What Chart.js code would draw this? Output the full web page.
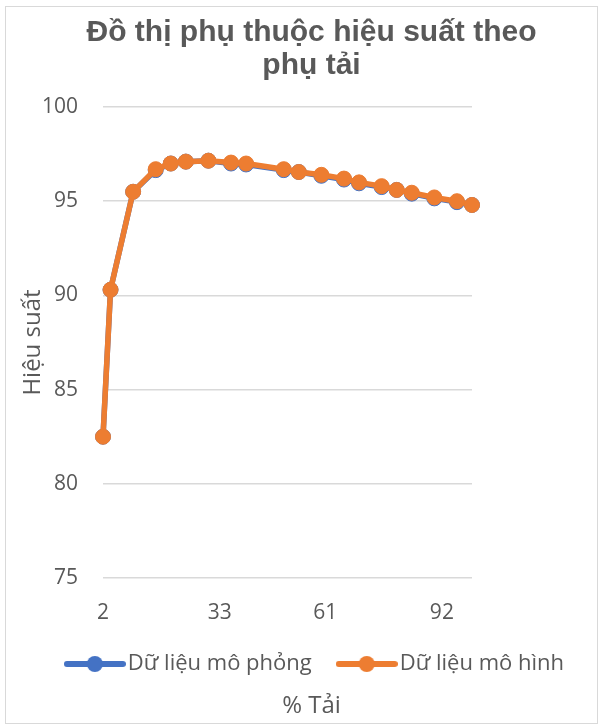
<!DOCTYPE html>
<html>
<head>
<meta charset="utf-8">
<script src="https://cdn.jsdelivr.net/npm/chart.js@4"></script>
<style>
  html, body { margin: 0; padding: 0; background: #fff; }
  #frame { position: absolute; left: 5px; top: 6px; width: 591px; height: 716px; border: 1px solid #d9d9d9; }
  canvas { display: block; }
</style>
</head>
<body>
<div id="frame"><canvas id="LineChart" width="591" height="716"></canvas></div>
<script>
// % tải (trục X)
const loadPercent = [2, 4, 10, 16, 20, 24, 30, 36, 40, 50, 54, 60, 66, 70, 76, 80, 84, 90, 96, 100];
// hiệu suất
const simulated = [82.5, 90.3, 95.5, 96.65, 97.0, 97.1, 97.15, 97.0, 96.95, 96.65, 96.55, 96.35, 96.15, 95.95, 95.75, 95.6, 95.4, 95.15, 94.95, 94.8];
const modelled = [82.5, 90.3, 95.5, 96.7, 97.0, 97.1, 97.15, 97.05, 97.0, 96.7, 96.55, 96.4, 96.2, 96.0, 95.8, 95.6, 95.45, 95.2, 95.0, 94.8];
const xTickLabels = [2, 33, 61, 92];
const seriesNames = ['Dữ liệu mô phỏng', 'Dữ liệu mô hình'];

const BLUE = '#4472C4';
const ORANGE = '#ED7D31';
const GREY = '#595959';
const FONT = 'Open Sans';

// icon kiểu Excel cho chú thích: đường + chấm tròn
function legendIcon(color) {
  const c = document.createElement('canvas');
  c.width = 62; c.height = 18;
  const g = c.getContext('2d');
  g.strokeStyle = color; g.lineWidth = 6; g.lineCap = 'round';
  g.beginPath(); g.moveTo(3, 9); g.lineTo(59, 9); g.stroke();
  g.fillStyle = color;
  g.beginPath(); g.arc(31, 9, 8, 0, Math.PI * 2); g.fill();
  return c;
}
const icons = [legendIcon(BLUE), legendIcon(ORANGE)];

const toPoints = ys => loadPercent.map((x, i) => ({x: x, y: ys[i]}));

const data = {
  datasets: [{
    label: seriesNames[0],
    data: toPoints(simulated),
    borderColor: BLUE,
    backgroundColor: BLUE,
    borderWidth: 5.5,
    pointRadius: 7.5,
    pointBorderWidth: 1,
    clip: false,
    order: 1
  }, {
    label: seriesNames[1],
    data: toPoints(modelled),
    borderColor: ORANGE,
    backgroundColor: ORANGE,
    borderWidth: 5.5,
    pointRadius: 7.5,
    pointBorderWidth: 1,
    clip: false,
    order: 0
  }]
};

const config = {
  type: 'line',
  data: data,
  options: {
    responsive: false,
    animation: false,
    layout: { padding: { left: 20, right: 0, top: 0, bottom: 2.7 } },
    plugins: {
      title: {
        display: true,
        text: ['Đồ thị phụ thuộc hiệu suất theo', 'phụ tải'],
        color: GREY,
        font: { family: 'Liberation Sans', size: 30, weight: 'bold', lineHeight: 33 / 30 },
        padding: { top: 9.5, bottom: 24.5 }
      },
      subtitle: {
        display: true,
        position: 'bottom',
        text: '% Tải',
        color: GREY,
        font: { family: FONT, size: 24, lineHeight: 1.2 },
        padding: { top: 6.5, bottom: 0 }
      },
      legend: {
        position: 'bottom',
        align: 'end',
        labels: {
          usePointStyle: true,
          pointStyleWidth: 44,
          padding: 33,
          color: GREY,
          font: { family: FONT, size: 22 },
          sort: (a, b) => a.datasetIndex - b.datasetIndex,
          generateLabels: chart => Chart.defaults.plugins.legend.labels.generateLabels(chart)
            .map(l => Object.assign(l, { pointStyle: icons[l.datasetIndex] }))
        }
      },
      tooltip: { enabled: false }
    },
    scales: {
      x: {
        type: 'linear',
        min: 2,
        max: 100,
        afterBuildTicks: s => { s.ticks = xTickLabels.map(v => ({ value: v })); },
        afterFit: s => { s.height = 42; },
        grid: { display: false, drawTicks: false },
        border: { display: false },
        ticks: { color: GREY, font: { family: FONT, size: 21 }, padding: 22, maxRotation: 0, autoSkip: false }
      },
      y: {
        min: 75,
        max: 100,
        afterFit: s => { s.width = 77; },
        grid: { color: '#d9d9d9', lineWidth: 1.5, drawTicks: false },
        border: { display: false },
        ticks: { stepSize: 5, color: GREY, font: { family: FONT, size: 21 }, padding: 25 },
        title: { display: true, text: 'Hiệu suất', color: GREY, font: { family: FONT, size: 24 }, padding: { top: -7, bottom: 0 } }
      },
      y2: {
        position: 'right',
        display: true,
        afterFit: s => { s.width = 125; },
        grid: { display: false, drawTicks: false },
        border: { display: false },
        ticks: { display: false }
      }
    }
  }
};

new Chart(document.getElementById('LineChart'), config);
</script>
</body>
</html>
